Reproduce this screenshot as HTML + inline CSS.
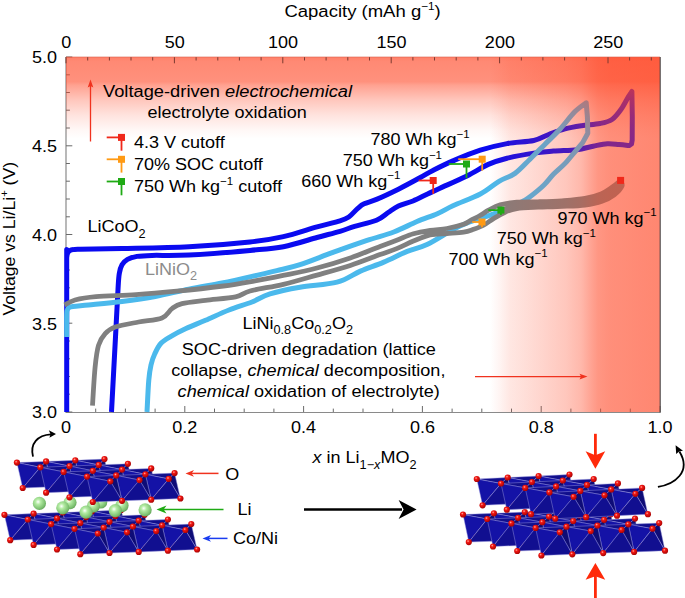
<!DOCTYPE html>
<html><head><meta charset="utf-8"><title>Figure</title>
<style>
html,body{margin:0;padding:0;background:#fff}
svg{display:block}
text{font-family:"Liberation Sans",sans-serif;font-size:17.3px;fill:#000}
.i{font-style:italic}
.s{font-size:11px}
.b{font-size:12.2px}
</style></head><body>
<svg width="685" height="598" viewBox="0 0 685 598">
<defs>
<linearGradient id="gt" x1="0" y1="0" x2="0" y2="1">
<stop offset="0" stop-color="#ff4422" stop-opacity="0.68"/>
<stop offset="0.05" stop-color="#ff4422" stop-opacity="0.63"/>
<stop offset="0.28" stop-color="#ff4422" stop-opacity="0.59"/>
<stop offset="0.32" stop-color="#ff4422" stop-opacity="0.50"/>
<stop offset="0.49" stop-color="#ff4422" stop-opacity="0.30"/>
<stop offset="0.66" stop-color="#ff4422" stop-opacity="0.15"/>
<stop offset="0.83" stop-color="#ff4422" stop-opacity="0.04"/>
<stop offset="0.93" stop-color="#ff4422" stop-opacity="0"/>
</linearGradient>
<linearGradient id="gr" x1="0" y1="0" x2="1" y2="0">
<stop offset="0.000" stop-color="#ff4422" stop-opacity="0.000"/>
<stop offset="0.029" stop-color="#ff4422" stop-opacity="0.000"/>
<stop offset="0.086" stop-color="#ff4422" stop-opacity="0.049"/>
<stop offset="0.143" stop-color="#ff4422" stop-opacity="0.107"/>
<stop offset="0.314" stop-color="#ff4422" stop-opacity="0.180"/>
<stop offset="0.463" stop-color="#ff4422" stop-opacity="0.246"/>
<stop offset="0.549" stop-color="#ff4422" stop-opacity="0.312"/>
<stop offset="0.646" stop-color="#ff4422" stop-opacity="0.459"/>
<stop offset="0.714" stop-color="#ff4422" stop-opacity="0.492"/>
<stop offset="1.000" stop-color="#ff4422" stop-opacity="0.529"/>
</linearGradient>
<linearGradient id="gru" x1="0" y1="0" x2="1" y2="0">
<stop offset="0.000" stop-color="#ff4422" stop-opacity="0.000"/>
<stop offset="0.029" stop-color="#ff4422" stop-opacity="0.000"/>
<stop offset="0.086" stop-color="#ff4422" stop-opacity="0.011"/>
<stop offset="0.143" stop-color="#ff4422" stop-opacity="0.026"/>
<stop offset="0.314" stop-color="#ff4422" stop-opacity="0.048"/>
<stop offset="0.463" stop-color="#ff4422" stop-opacity="0.072"/>
<stop offset="0.549" stop-color="#ff4422" stop-opacity="0.099"/>
<stop offset="0.646" stop-color="#ff4422" stop-opacity="0.186"/>
<stop offset="0.714" stop-color="#ff4422" stop-opacity="0.213"/>
<stop offset="1.000" stop-color="#ff4422" stop-opacity="0.246"/>
</linearGradient>
<radialGradient id="go" cx="0.38" cy="0.35" r="0.7">
<stop offset="0" stop-color="#ffb0a0"/><stop offset="0.3" stop-color="#f41814"/><stop offset="1" stop-color="#a00000"/>
</radialGradient>
<radialGradient id="gl" cx="0.4" cy="0.38" r="0.7">
<stop offset="0" stop-color="#ffffff"/><stop offset="0.28" stop-color="#b4ecA4"/><stop offset="0.75" stop-color="#7cc070"/><stop offset="1" stop-color="#5a9a50"/>
</radialGradient>
</defs>
<rect width="685" height="598" fill="#fff"/>

<rect x="485" y="57" width="175" height="355" fill="url(#gru)"/>
<path d="M66 57V412.5H660.5" stroke="#8a8a8a" stroke-width="1.2" fill="none"/>
<path d="M66 57h6.3M66 74.8h3.9M66 92.5h3.9M66 110.2h3.9M66 128h3.9M66 145.8h6.3M66 163.5h3.9M66 181.2h3.9M66 199h3.9M66 216.8h3.9M66 234.5h6.3M66 252.2h3.9M66 270h3.9M66 287.8h3.9M66 305.5h3.9M66 323.2h6.3M66 341h3.9M66 358.8h3.9M66 376.5h3.9M66 394.2h3.9M66 412h6.3M66 412v-6M95.7 412v-3.4M125.4 412v-3.4M155.1 412v-3.4M184.8 412v-6M214.5 412v-3.4M244.2 412v-3.4M273.9 412v-3.4M303.6 412v-6M333.3 412v-3.4M363 412v-3.4M392.7 412v-3.4M422.4 412v-6M452.1 412v-3.4M481.8 412v-3.4M511.5 412v-3.4M541.2 412v-6M570.9 412v-3.4M600.6 412v-3.4M630.3 412v-3.4M660 412v-6" stroke="#6a6a6a" stroke-width="1" fill="none"/>
<g fill="none" stroke-linejoin="round" stroke-linecap="butt">
<path d="M66.7 412C66.7 387 66.7 287.8 66.7 262C66.7 236.2 66.7 258.5 66.8 257C66.9 255.5 67.1 254.3 67.6 253.2C68.1 252.1 68.8 251.2 69.8 250.6C70.8 250 71.8 249.8 73.5 249.6C75.2 249.4 71.9 249.5 80 249.3C88.1 249.1 103.8 249 122 248.6C140.2 248.2 167.7 247.9 189 246.8C210.3 245.7 234.3 243.7 250 242C265.7 240.3 272.2 239.1 283.4 236.6C294.6 234.1 307.6 229.5 317 226.9C326.4 224.3 334.7 222.5 340 220.8C345.3 219.2 345.9 219 348.8 217C351.7 215 354.9 210.8 357.5 208.6C360.1 206.4 360.9 205.3 364.1 203.8C367.3 202.3 370.8 201.8 376.5 199.4C382.2 197 391.1 192.8 398.4 189.2C405.7 185.5 414.5 180.7 420.3 177.5C426.1 174.3 427.9 173 433.4 170.2C438.9 167.4 445.7 163.9 453.5 160.6C461.3 157.3 471.4 153 480.3 150.2C489.2 147.4 498.1 145.2 507 143.6C515.9 142 526.8 142 533.8 140.5C540.8 139 543.5 136.4 548.7 134.5C553.9 132.6 559.5 130.3 565 128.9C570.5 127.5 575.7 126.7 581.5 125.8C587.3 124.9 594.9 124.5 600 123.5C605.1 122.5 608.5 121.9 612 119.5C615.5 117.1 618.6 112.8 621.3 109C624 105.2 626.5 99.8 628.3 96.9C630.1 94 631.3 92.4 631.9 91.5L631.9 91.5L632.3 116.8L632.2 140L631.5 144L629 145.6L629 145.6C627.3 145.4 622.6 144.8 619 144.5C615.4 144.2 611.6 143.4 607.3 143.7C603 144 598.3 145.2 593.2 146.2C588.1 147.2 583.4 148.9 576.8 149.7C570.2 150.5 560.6 150.5 553.4 151.1C546.2 151.7 541.5 151.9 533.8 153.1C526.1 154.3 514.6 156.3 507 158.2C499.4 160.1 495 161.4 488.3 164.4C481.6 167.4 474.9 172 466.9 176C458.8 180 446.6 185.2 440 188.2C433.4 191.2 432.1 191.9 427.6 194C423.1 196.1 417.9 199 413 201C408.1 203 402.5 204.1 398.4 206C394.3 207.9 391.8 210.1 388.2 212.5C384.6 214.9 382.1 217.9 376.5 220.2C370.9 222.5 360.7 224.6 354.6 226.4C348.5 228.2 346.3 229.5 340 231.3C333.7 233.2 326.4 234.9 317 237.5C307.6 240.1 294.6 244.5 283.4 246.7C272.2 248.8 265.7 249 250 250.4C234.3 251.8 205.3 254.2 189 255C172.7 255.8 160.7 255.2 152 255.4C143.3 255.6 141.1 255.7 137 256.4C132.9 257.1 130 258 127.5 259.4C125 260.8 123.4 262.4 122 264.8C120.6 267.2 120 269.4 119.3 273.5C118.6 277.6 118.6 278.9 118 289.5C117.4 300.1 116.6 316.6 115.5 337C114.4 357.4 112.2 399.5 111.5 412" stroke="#0a0af0" stroke-width="5"/>
<path d="M66.7 337C66.7 333.3 66.6 319.5 66.7 315C66.8 310.5 66.8 311.4 67.2 310.2C67.6 308.9 68 308.1 69 307.5C70 306.9 69.8 306.8 73 306.4C76.2 306 80.2 305.7 88.4 304.9C96.6 304.1 110.8 302.9 122 301.5C133.2 300.1 144.2 298.6 155.3 296.5C166.4 294.4 177.7 291.4 188.8 289.2C199.9 286.9 211.5 285.1 222 283C232.5 280.9 242.9 278.5 252 276.4C261.1 274.3 268.8 272.6 276.8 270.6C284.8 268.7 290.5 267.8 300 264.7C309.5 261.6 322.4 256.2 333.6 252.2C344.8 248.1 357 243.8 367 240.4C377 237 385.5 235.2 393.8 232C402.1 228.8 409.8 224.6 417 221.5C424.2 218.4 431.2 216.4 437.3 213.7C443.4 211 446.3 208.8 453.5 205.5C460.7 202.2 472.7 198 480.3 194C487.9 190 493.2 184.7 499 181.3C504.8 177.9 509.8 177.1 515 173.4C520.2 169.7 525.1 163.9 530 159.2C534.9 154.4 539.3 149.9 544.3 144.9C549.3 139.9 555.2 134.5 560.2 129C565.2 123.5 570.2 116.5 574.5 112.1C578.8 107.7 584.2 104.3 586.2 102.8L586.2 102.8L587.4 116.8L587.8 133.2L582.7 142.6L582.7 142.6C581.3 144.2 577.4 148.8 574.5 152.3C571.6 155.8 568.6 159.7 565.1 163.4C561.6 167.1 556.9 170.7 553.4 174.3C549.9 177.9 547.9 181.2 544 185C540.1 188.8 533.5 194.1 530 196.8C526.5 199.5 526.8 199.1 523 201.2C519.2 203.3 512.3 207 507 209.3C501.7 211.6 497.2 212.7 491 214.8C484.8 216.9 475.9 219.6 469.6 222C463.4 224.4 460.6 225.5 453.5 229.3C446.4 233.1 434.7 240.9 427 244.6C419.3 248.3 414.4 248.5 407.2 251.4C400 254.3 391.6 258.8 383.8 262.1C376 265.4 368.2 267.8 360.4 271.1C352.6 274.5 347.1 279.5 337 282.2C326.9 284.9 311.2 285.2 300 287.2C288.8 289.1 278 291.4 270 293.9C262 296.4 258.8 299.3 252 302C245.2 304.7 236.8 306.9 229 310C221.2 313.1 212.7 317.2 205.5 320.3C198.3 323.4 191.8 325.8 186 328.5C180.2 331.2 175.2 333.8 171 336.3C166.8 338.8 163.7 340.4 161 343.3C158.3 346.2 156.5 350.2 154.8 353.8C153.1 357.4 152 360.6 151 365C150 369.4 149.5 372.2 148.8 380C148.1 387.8 147.3 406.7 147 412" stroke="#4bb9ec" stroke-width="5"/>
<path d="M503 209.5C505.3 208.8 511.2 206.2 517 205.4C522.8 204.6 530.5 204.9 538 204.6C545.5 204.3 554.2 204.2 562 203.7C569.8 203.2 578.5 202.6 585 201.6C591.5 200.6 596.3 199.2 601 197.4C605.7 195.6 609.7 193.1 613 190.8C616.3 188.5 619.7 184.7 621 183.5M64.5 305C66.2 304.2 69.8 301.4 75 300C80.2 298.6 85.8 297.5 96 296.6C106.2 295.7 122.5 295.5 136 294.6C149.4 293.7 162.1 292.6 176.7 291.2C191.3 289.8 210.3 287.7 223.4 286C236.5 284.3 243.9 282.8 255 280.8C266.1 278.8 279.7 276.3 290 274.2C300.3 272.1 306.9 270.7 317 268C327.1 265.3 339.8 261.5 350.3 257.9C360.8 254.3 372.3 249.3 380 246.4C387.7 243.5 391.1 242.3 396.7 240.2C402.3 238.1 407.8 235.4 413.4 233.8C419 232.2 424.6 231.3 430.2 230.4C435.8 229.5 441.3 229.5 446.9 228.5C452.5 227.5 459.7 225.6 463.6 224.3C467.5 223 467.6 222.1 470.3 220.6C473 219.1 477 217.2 480 215.5C483 213.8 485.1 212 488.5 210.2C491.9 208.4 495.5 206.2 500.2 204.9C504.9 203.6 510.6 202.7 516.9 202.2C523.2 201.7 530.5 202 538 201.8C545.5 201.6 554.2 201.4 562 200.8C569.8 200.2 578.5 199.6 585 198.4C591.5 197.2 596.5 195.8 601 193.9C605.5 192.1 608.8 189.5 612 187.3C615.2 185.2 618.7 182.1 620 181L620 181C620.3 181.8 623 183.7 622 186C621 188.3 617.3 192.5 614 195C610.7 197.5 606.8 199.5 602 201.2C597.2 202.9 591.7 204.1 585 205C578.3 205.9 567.8 206.1 562 206.4C556.2 206.7 554 206.7 550 206.8C546 206.9 543.5 206.9 538 207.2C532.5 207.5 522.4 207.8 516.9 208.6C511.4 209.4 509.1 210.5 505.2 212.2C501.3 213.9 497 216.5 493.5 218.6C490 220.7 487.3 223.2 484 225C480.7 226.8 477 228.1 473.6 229.3C470.2 230.5 468.1 231.5 463.6 232.2C459.2 232.9 452.5 233.1 446.9 233.5C441.3 233.9 435.8 233.6 430.2 234.8C424.6 236.1 419 238.7 413.4 241C407.8 243.3 402.3 246.3 396.7 248.6C391.1 250.9 387.7 251.8 380 254.6C372.3 257.4 360.8 262.1 350.3 265.5C339.8 268.9 328.1 272 317 275.1C305.9 278.2 294.6 281.7 283.4 284.3C272.2 286.9 258 288.9 250 291C242 293.1 243 295.3 235.6 296.9C228.2 298.4 214.4 299.2 205.5 300.3C196.6 301.4 187.6 302.2 182 303.6C176.4 305 175.3 306.2 172 308.6C168.7 311 167.6 315.8 162 318C156.4 320.2 146.4 320.5 138.6 322C130.8 323.5 120.8 325.1 115.2 327C109.6 328.9 108 330.6 105.2 333.7C102.4 336.8 100.2 339.8 98.5 345.4C96.8 351 96.1 357.2 95.1 367.2C94.1 377.2 92.9 399.2 92.5 405.6" stroke="#808080" stroke-width="4.8"/>
</g>
<rect x="66" y="57" width="594" height="88" fill="url(#gt)"/>
<rect x="485" y="57" width="175" height="355" fill="url(#gr)"/>
<path d="M66 57v6.3M87.7 57v3.5M109.4 57v3.5M131 57v3.5M152.7 57v3.5M174.4 57v6.3M196.1 57v3.5M217.8 57v3.5M239.4 57v3.5M261.1 57v3.5M282.8 57v6.3M304.5 57v3.5M326.1 57v3.5M347.8 57v3.5M369.5 57v3.5M391.2 57v6.3M412.9 57v3.5M434.5 57v3.5M456.2 57v3.5M477.9 57v3.5M499.6 57v6.3M521.3 57v3.5M542.9 57v3.5M564.6 57v3.5M586.3 57v3.5M608 57v6.3M629.6 57v3.5M651.3 57v3.5" stroke="#7a3a30" stroke-width="1" fill="none"/>
<path d="M66 57H660" stroke="#d8604c" stroke-width="0.6" fill="none"/>
<path d="M660.2 57V412.5" stroke="#4a4242" stroke-width="1.1" fill="none"/>
<g stroke="#f0281a" fill="#f0281a" stroke-width="1.8"><path d="M418.7 180.5H433.2"/><path d="M433.2 180.5V193.8"/><rect x="429.7" y="177" width="7" height="7" stroke="none"/></g>
<g stroke="#1faa14" fill="#1faa14" stroke-width="1.8"><path d="M448.8 164H466.5"/><path d="M466.5 164V178.1"/><rect x="463" y="160.5" width="7" height="7" stroke="none"/></g>
<g stroke="#ff9a14" fill="#ff9a14" stroke-width="1.8"><path d="M458.2 159.2H482.2"/><path d="M482.2 159.2V170.6"/><rect x="478.7" y="155.7" width="7" height="7" stroke="none"/></g>
<g stroke="#1faa14" fill="#1faa14" stroke-width="1.8"><path d="M488.3 210.1H500.9"/><path d="M500.9 210.1V215"/><rect x="497.4" y="206.6" width="7" height="7" stroke="none"/></g>
<g stroke="#ff9a14" fill="#ff9a14" stroke-width="1.8"><path d="M472.2 222H482"/><path d="M482 222V227.3"/><rect x="478.5" y="218.5" width="7" height="7" stroke="none"/></g>
<g stroke="#f0281a" fill="#f0281a" stroke-width="1.8"><rect x="617.1" y="176.9" width="7" height="7" stroke="none"/></g>
<g stroke="#f0281a" fill="#f0281a" stroke-width="1.8"><path d="M106.7 137.4H121.5"/><path d="M121.5 137.4V150.7"/><rect x="118" y="133.9" width="7" height="7" stroke="none"/></g>
<g stroke="#ff9a14" fill="#ff9a14" stroke-width="1.8"><path d="M106.7 159.3H121.5"/><path d="M121.5 159.3V172.6"/><rect x="118" y="155.8" width="7" height="7" stroke="none"/></g>
<g stroke="#1faa14" fill="#1faa14" stroke-width="1.8"><path d="M106.7 181.5H121.5"/><path d="M121.5 181.5V195.3"/><rect x="118" y="178" width="7" height="7" stroke="none"/></g>
<g stroke="#f0321e" stroke-width="1.3" fill="#f0321e"><path d="M90.5 141.5V86"/><path d="M90.5 79.5l-2.8 8l2.8-1.5l2.8 1.5z" stroke="none"/>
<path d="M475 376.6H582"/><path d="M587.5 376.6l-8-2.8l1.5 2.8l-1.5 2.8z" stroke="none"/></g>
<text transform="translate(362.6 17.3) scale(1.07 1)" text-anchor="middle">Capacity (mAh g<tspan class="s" dy="-7.5">−1</tspan><tspan dy="7.5">​</tspan>)</text>
<text transform="translate(66.3 48.1) scale(1.042 1)" text-anchor="middle">0</text>
<text transform="translate(174.7 48.1) scale(1.042 1)" text-anchor="middle">50</text>
<text transform="translate(283.1 48.1) scale(1.042 1)" text-anchor="middle">100</text>
<text transform="translate(391.5 48.1) scale(1.042 1)" text-anchor="middle">150</text>
<text transform="translate(499.9 48.1) scale(1.042 1)" text-anchor="middle">200</text>
<text transform="translate(608.3 48.1) scale(1.042 1)" text-anchor="middle">250</text>
<text transform="translate(57 63.3) scale(1.042 1)" text-anchor="end">5.0</text>
<text transform="translate(57 152.1) scale(1.042 1)" text-anchor="end">4.5</text>
<text transform="translate(57 240.8) scale(1.042 1)" text-anchor="end">4.0</text>
<text transform="translate(57 329.6) scale(1.042 1)" text-anchor="end">3.5</text>
<text transform="translate(57 418.3) scale(1.042 1)" text-anchor="end">3.0</text>
<text transform="translate(66 432.8) scale(1.042 1)" text-anchor="middle">0</text>
<text transform="translate(184.8 432.8) scale(1.042 1)" text-anchor="middle">0.2</text>
<text transform="translate(303.6 432.8) scale(1.042 1)" text-anchor="middle">0.4</text>
<text transform="translate(422.4 432.8) scale(1.042 1)" text-anchor="middle">0.6</text>
<text transform="translate(541.2 432.8) scale(1.042 1)" text-anchor="middle">0.8</text>
<text transform="translate(660 432.8) scale(1.042 1)" text-anchor="middle">1.0</text>
<text transform="translate(364.5 463.3) scale(1.042 1)" text-anchor="middle"><tspan class="i">x</tspan> in Li<tspan class="b" dy="5.3">1−<tspan class='i'>x</tspan></tspan><tspan dy="-5.3">​</tspan>MO<tspan class="b" dy="5.3">2</tspan><tspan dy="-5.3">​</tspan></text>
<text transform="translate(15 238.7) rotate(-90) scale(1.02 1)" text-anchor="middle">Voltage vs Li/Li<tspan class="s" dy="-7.5">+</tspan><tspan dy="7.5">​</tspan> (V)</text>
<text transform="translate(103 96.6) scale(1.058 1)">Voltage-driven <tspan class="i">electrochemical</tspan></text>
<text transform="translate(227.1 118.2) scale(1.042 1)" text-anchor="middle">electrolyte oxidation</text>
<text transform="translate(134 148.3) scale(1.042 1)">4.3 V cutoff</text>
<text transform="translate(134 170.2) scale(1.042 1)">70% SOC cutoff</text>
<text transform="translate(134 192.4) scale(1.042 1)">750 Wh kg<tspan class="s" dy="-7.5">−1</tspan><tspan dy="7.5">​</tspan> cutoff</text>
<text transform="translate(87.5 232.4) scale(1.042 1)">LiCoO<tspan class="b" dy="5.3">2</tspan><tspan dy="-5.3">​</tspan></text>
<text transform="translate(145 275) scale(1.042 1)" style="fill:#8c8c8c">LiNiO<tspan class="b" dy="5.3">2</tspan><tspan dy="-5.3">​</tspan></text>
<text transform="translate(242.5 328.6) scale(1.042 1)">LiNi<tspan class="b" dy="5.3">0.8</tspan><tspan dy="-5.3">​</tspan>Co<tspan class="b" dy="5.3">0.2</tspan><tspan dy="-5.3">​</tspan>O<tspan class="b" dy="5.3">2</tspan><tspan dy="-5.3">​</tspan></text>
<text transform="translate(308.8 354.7) scale(1.0495 1)" text-anchor="middle">SOC-driven degradation (lattice</text>
<text transform="translate(308.3 375.6) scale(1.0455 1)" text-anchor="middle">collapse, <tspan class="i">chemical</tspan> decomposition,</text>
<text transform="translate(308.7 397.2) scale(1.0454 1)" text-anchor="middle"><tspan class="i">chemical</tspan> oxidation of electrolyte)</text>
<text transform="translate(370.5 145.2) scale(1.042 1)">780 Wh kg<tspan class="s" dy="-7.5">−1</tspan><tspan dy="7.5">​</tspan></text>
<text transform="translate(342.8 166) scale(1.042 1)">750 Wh kg<tspan class="s" dy="-7.5">−1</tspan><tspan dy="7.5">​</tspan></text>
<text transform="translate(301.2 186.5) scale(1.042 1)">660 Wh kg<tspan class="s" dy="-7.5">−1</tspan><tspan dy="7.5">​</tspan></text>
<text transform="translate(557.5 223.6) scale(1.042 1)">970 Wh kg<tspan class="s" dy="-7.5">−1</tspan><tspan dy="7.5">​</tspan></text>
<text transform="translate(496.7 244) scale(1.042 1)">750 Wh kg<tspan class="s" dy="-7.5">−1</tspan><tspan dy="7.5">​</tspan></text>
<text transform="translate(448.4 264.7) scale(1.042 1)">700 Wh kg<tspan class="s" dy="-7.5">−1</tspan><tspan dy="7.5">​</tspan></text>
<g stroke="#9d9ae0" stroke-width="0.45" stroke-linejoin="round">
<circle cx="103.7" cy="530.9" r="3.1" fill="url(#go)" stroke="none"/><polygon points="92,511.3 121.2,510.1 115.4,516" fill="rgb(17,15,141)"/><polygon points="121.2,510.1 115.4,516 127,535.5" fill="rgb(14,12,119)"/><circle cx="121.2" cy="510.1" r="3.1" fill="url(#go)" stroke="none"/><circle cx="74.5" cy="532" r="3.1" fill="url(#go)" stroke="none"/><polygon points="92,511.3 115.4,516 97.8,536.7" fill="rgb(20,18,166)"/><polygon points="115.4,516 127,535.5 97.8,536.7" fill="rgb(17,15,144)"/><polygon points="62.8,512.5 92,511.3 86.2,517.1" fill="rgb(17,15,141)"/><polygon points="92,511.3 86.2,517.1 97.8,536.7" fill="rgb(14,12,119)"/><circle cx="92" cy="511.3" r="3.1" fill="url(#go)" stroke="none"/><circle cx="45.3" cy="533.2" r="3.1" fill="url(#go)" stroke="none"/><circle cx="127" cy="535.5" r="3.1" fill="url(#go)" stroke="none"/><polygon points="62.8,512.5 86.2,517.1 68.6,537.9" fill="rgb(20,18,166)"/><polygon points="86.2,517.1 97.8,536.7 68.6,537.9" fill="rgb(17,15,144)"/><polygon points="115.4,516 144.6,514.8 138.7,520.6" fill="rgb(17,15,141)"/><polygon points="33.6,513.6 62.8,512.5 57,518.3" fill="rgb(17,15,141)"/><polygon points="62.8,512.5 57,518.3 68.6,537.9" fill="rgb(14,12,119)"/><polygon points="144.6,514.8 138.7,520.6 150.4,540.2" fill="rgb(14,12,119)"/><circle cx="62.8" cy="512.5" r="3.1" fill="url(#go)" stroke="none"/><circle cx="144.6" cy="514.8" r="3.1" fill="url(#go)" stroke="none"/><circle cx="97.8" cy="536.7" r="3.1" fill="url(#go)" stroke="none"/><circle cx="16.1" cy="534.4" r="3.1" fill="url(#go)" stroke="none"/><polygon points="33.6,513.6 57,518.3 39.4,539" fill="rgb(20,18,166)"/><polygon points="115.4,516 138.7,520.6 121.2,541.4" fill="rgb(20,18,166)"/><polygon points="138.7,520.6 150.4,540.2 121.2,541.4" fill="rgb(17,15,144)"/><polygon points="57,518.3 68.6,537.9 39.4,539" fill="rgb(17,15,144)"/><polygon points="86.2,517.1 115.4,516 109.5,521.8" fill="rgb(17,15,141)"/><polygon points="4.4,514.8 33.6,513.6 27.8,519.5" fill="rgb(17,15,141)"/><polygon points="115.4,516 109.5,521.8 121.2,541.4" fill="rgb(14,12,119)"/><polygon points="33.6,513.6 27.8,519.5 39.4,539" fill="rgb(14,12,119)"/><circle cx="115.4" cy="516" r="3.1" fill="url(#go)" stroke="none"/><circle cx="33.6" cy="513.6" r="3.1" fill="url(#go)" stroke="none"/><circle cx="68.6" cy="537.9" r="3.1" fill="url(#go)" stroke="none"/><circle cx="150.4" cy="540.2" r="3.1" fill="url(#go)" stroke="none"/><polygon points="4.4,514.8 27.8,519.5 10.2,540.2" fill="rgb(20,18,166)"/><polygon points="86.2,517.1 109.5,521.8 92,542.5" fill="rgb(20,18,166)"/><polygon points="109.5,521.8 121.2,541.4 92,542.5" fill="rgb(17,15,144)"/><polygon points="27.8,519.5 39.4,539 10.2,540.2" fill="rgb(17,15,144)"/><polygon points="57,518.3 86.2,517.1 80.3,523" fill="rgb(17,15,141)"/><polygon points="138.7,520.6 167.9,519.5 162.1,525.3" fill="rgb(17,15,141)"/><polygon points="86.2,517.1 80.3,523 92,542.5" fill="rgb(14,12,119)"/><polygon points="167.9,519.5 162.1,525.3 173.8,544.9" fill="rgb(14,12,119)"/><circle cx="167.9" cy="519.5" r="3.1" fill="url(#go)" stroke="none"/><circle cx="4.4" cy="514.8" r="3.1" fill="url(#go)" stroke="none"/><circle cx="86.2" cy="517.1" r="3.1" fill="url(#go)" stroke="none"/><circle cx="121.2" cy="541.4" r="3.1" fill="url(#go)" stroke="none"/><circle cx="39.4" cy="539" r="3.1" fill="url(#go)" stroke="none"/><polygon points="138.7,520.6 162.1,525.3 144.6,546" fill="rgb(20,18,166)"/><polygon points="57,518.3 80.3,523 62.8,543.7" fill="rgb(20,18,166)"/><polygon points="162.1,525.3 173.8,544.9 144.6,546" fill="rgb(17,15,144)"/><polygon points="80.3,523 92,542.5 62.8,543.7" fill="rgb(17,15,144)"/><polygon points="27.8,519.5 57,518.3 51.1,524.1" fill="rgb(17,15,141)"/><polygon points="109.5,521.8 138.7,520.6 132.9,526.5" fill="rgb(17,15,141)"/><polygon points="57,518.3 51.1,524.1 62.8,543.7" fill="rgb(14,12,119)"/><polygon points="138.7,520.6 132.9,526.5 144.6,546" fill="rgb(14,12,119)"/><circle cx="138.7" cy="520.6" r="3.1" fill="url(#go)" stroke="none"/><circle cx="57" cy="518.3" r="3.1" fill="url(#go)" stroke="none"/><circle cx="92" cy="542.5" r="3.1" fill="url(#go)" stroke="none"/><circle cx="173.8" cy="544.9" r="3.1" fill="url(#go)" stroke="none"/><circle cx="10.2" cy="540.2" r="3.1" fill="url(#go)" stroke="none"/><polygon points="27.8,519.5 51.1,524.1 33.6,544.9" fill="rgb(20,18,166)"/><polygon points="109.5,521.8 132.9,526.5 115.4,547.2" fill="rgb(20,18,166)"/><polygon points="51.1,524.1 62.8,543.7 33.6,544.9" fill="rgb(17,15,144)"/><polygon points="132.9,526.5 144.6,546 115.4,547.2" fill="rgb(17,15,144)"/><polygon points="162.1,525.3 191.3,524.1 185.4,530" fill="rgb(17,15,141)"/><polygon points="80.3,523 109.5,521.8 103.7,527.6" fill="rgb(17,15,141)"/><polygon points="191.3,524.1 185.4,530 197.1,549.5" fill="rgb(14,12,119)"/><polygon points="109.5,521.8 103.7,527.6 115.4,547.2" fill="rgb(14,12,119)"/><circle cx="27.8" cy="519.5" r="3.1" fill="url(#go)" stroke="none"/><circle cx="109.5" cy="521.8" r="3.1" fill="url(#go)" stroke="none"/><circle cx="191.3" cy="524.1" r="3.1" fill="url(#go)" stroke="none"/><circle cx="144.6" cy="546" r="3.1" fill="url(#go)" stroke="none"/><circle cx="62.8" cy="543.7" r="3.1" fill="url(#go)" stroke="none"/><polygon points="162.1,525.3 185.4,530 167.9,550.7" fill="rgb(20,18,166)"/><polygon points="80.3,523 103.7,527.6 86.2,548.4" fill="rgb(20,18,166)"/><polygon points="103.7,527.6 115.4,547.2 86.2,548.4" fill="rgb(17,15,144)"/><polygon points="185.4,530 197.1,549.5 167.9,550.7" fill="rgb(17,15,144)"/><polygon points="132.9,526.5 162.1,525.3 156.2,531.1" fill="rgb(17,15,141)"/><polygon points="51.1,524.1 80.3,523 74.5,528.8" fill="rgb(17,15,141)"/><polygon points="162.1,525.3 156.2,531.1 167.9,550.7" fill="rgb(14,12,119)"/><polygon points="80.3,523 74.5,528.8 86.2,548.4" fill="rgb(14,12,119)"/><circle cx="80.3" cy="523" r="3.1" fill="url(#go)" stroke="none"/><circle cx="162.1" cy="525.3" r="3.1" fill="url(#go)" stroke="none"/><circle cx="197.1" cy="549.5" r="3.1" fill="url(#go)" stroke="none"/><circle cx="33.6" cy="544.9" r="3.1" fill="url(#go)" stroke="none"/><circle cx="115.4" cy="547.2" r="3.1" fill="url(#go)" stroke="none"/><polygon points="51.1,524.1 74.5,528.8 57,549.5" fill="rgb(20,18,166)"/><polygon points="132.9,526.5 156.2,531.1 138.7,551.9" fill="rgb(20,18,166)"/><polygon points="74.5,528.8 86.2,548.4 57,549.5" fill="rgb(17,15,144)"/><polygon points="156.2,531.1 167.9,550.7 138.7,551.9" fill="rgb(17,15,144)"/><polygon points="103.7,527.6 132.9,526.5 127,532.3" fill="rgb(17,15,141)"/><polygon points="132.9,526.5 127,532.3 138.7,551.9" fill="rgb(14,12,119)"/><circle cx="51.1" cy="524.1" r="3.1" fill="url(#go)" stroke="none"/><circle cx="132.9" cy="526.5" r="3.1" fill="url(#go)" stroke="none"/><circle cx="167.9" cy="550.7" r="3.1" fill="url(#go)" stroke="none"/><circle cx="86.2" cy="548.4" r="3.1" fill="url(#go)" stroke="none"/><polygon points="103.7,527.6 127,532.3 109.5,553" fill="rgb(20,18,166)"/><polygon points="127,532.3 138.7,551.9 109.5,553" fill="rgb(17,15,144)"/><polygon points="74.5,528.8 103.7,527.6 97.8,533.5" fill="rgb(17,15,141)"/><polygon points="103.7,527.6 97.8,533.5 109.5,553" fill="rgb(14,12,119)"/><circle cx="103.7" cy="527.6" r="3.1" fill="url(#go)" stroke="none"/><circle cx="185.4" cy="530" r="3.1" fill="url(#go)" stroke="none"/><circle cx="138.7" cy="551.9" r="3.1" fill="url(#go)" stroke="none"/><circle cx="57" cy="549.5" r="3.1" fill="url(#go)" stroke="none"/><polygon points="74.5,528.8 97.8,533.5 80.3,554.2" fill="rgb(20,18,166)"/><polygon points="97.8,533.5 109.5,553 80.3,554.2" fill="rgb(17,15,144)"/><circle cx="156.2" cy="531.1" r="3.1" fill="url(#go)" stroke="none"/><circle cx="74.5" cy="528.8" r="3.1" fill="url(#go)" stroke="none"/><circle cx="109.5" cy="553" r="3.1" fill="url(#go)" stroke="none"/><circle cx="127" cy="532.3" r="3.1" fill="url(#go)" stroke="none"/><circle cx="80.3" cy="554.2" r="3.1" fill="url(#go)" stroke="none"/><circle cx="97.8" cy="533.5" r="3.1" fill="url(#go)" stroke="none"/>
<circle cx="100.7" cy="502" r="6.6" fill="url(#gl)" stroke="none"/>
<circle cx="70" cy="502.6" r="6.6" fill="url(#gl)" stroke="none"/>
<circle cx="39.4" cy="503.4" r="6.6" fill="url(#gl)" stroke="none"/>
<circle cx="122" cy="505.5" r="6.6" fill="url(#gl)" stroke="none"/>
<circle cx="93.4" cy="506" r="6.6" fill="url(#gl)" stroke="none"/>
<circle cx="62.8" cy="507.8" r="6.6" fill="url(#gl)" stroke="none"/>
<circle cx="145.1" cy="509.9" r="6.6" fill="url(#gl)" stroke="none"/>
<circle cx="115.3" cy="510.7" r="6.6" fill="url(#gl)" stroke="none"/>
<circle cx="86.1" cy="512.2" r="6.6" fill="url(#gl)" stroke="none"/>
<circle cx="87" cy="479.8" r="3.1" fill="url(#go)" stroke="none"/><polygon points="75.3,460.3 104.5,459.1 98.7,464.9" fill="rgb(17,15,141)"/><polygon points="104.5,459.1 98.7,464.9 110.3,484.5" fill="rgb(14,12,119)"/><circle cx="104.5" cy="459.1" r="3.1" fill="url(#go)" stroke="none"/><circle cx="57.8" cy="481" r="3.1" fill="url(#go)" stroke="none"/><polygon points="75.3,460.3 98.7,464.9 81.1,485.7" fill="rgb(20,18,166)"/><polygon points="98.7,464.9 110.3,484.5 81.1,485.7" fill="rgb(17,15,144)"/><polygon points="46.1,461.4 75.3,460.3 69.5,466.1" fill="rgb(17,15,141)"/><polygon points="75.3,460.3 69.5,466.1 81.1,485.7" fill="rgb(14,12,119)"/><circle cx="75.3" cy="460.3" r="3.1" fill="url(#go)" stroke="none"/><circle cx="110.3" cy="484.5" r="3.1" fill="url(#go)" stroke="none"/><circle cx="28.6" cy="482.2" r="3.1" fill="url(#go)" stroke="none"/><polygon points="46.1,461.4 69.5,466.1 51.9,486.8" fill="rgb(20,18,166)"/><polygon points="69.5,466.1 81.1,485.7 51.9,486.8" fill="rgb(17,15,144)"/><polygon points="98.7,464.9 127.9,463.8 122,469.6" fill="rgb(17,15,141)"/><polygon points="16.9,462.6 46.1,461.4 40.3,467.3" fill="rgb(17,15,141)"/><polygon points="127.9,463.8 122,469.6 133.7,489.2" fill="rgb(14,12,119)"/><polygon points="46.1,461.4 40.3,467.3 51.9,486.8" fill="rgb(14,12,119)"/><circle cx="127.9" cy="463.8" r="3.1" fill="url(#go)" stroke="none"/><circle cx="46.1" cy="461.4" r="3.1" fill="url(#go)" stroke="none"/><circle cx="81.1" cy="485.7" r="3.1" fill="url(#go)" stroke="none"/><polygon points="16.9,462.6 40.3,467.3 22.7,488" fill="rgb(20,18,166)"/><polygon points="98.7,464.9 122,469.6 104.5,490.3" fill="rgb(20,18,166)"/><polygon points="122,469.6 133.7,489.2 104.5,490.3" fill="rgb(17,15,144)"/><polygon points="40.3,467.3 51.9,486.8 22.7,488" fill="rgb(17,15,144)"/><polygon points="69.5,466.1 98.7,464.9 92.8,470.8" fill="rgb(17,15,141)"/><polygon points="98.7,464.9 92.8,470.8 104.5,490.3" fill="rgb(14,12,119)"/><circle cx="16.9" cy="462.6" r="3.1" fill="url(#go)" stroke="none"/><circle cx="98.7" cy="464.9" r="3.1" fill="url(#go)" stroke="none"/><circle cx="133.7" cy="489.2" r="3.1" fill="url(#go)" stroke="none"/><circle cx="51.9" cy="486.8" r="3.1" fill="url(#go)" stroke="none"/><polygon points="69.5,466.1 92.8,470.8 75.3,491.5" fill="rgb(20,18,166)"/><polygon points="92.8,470.8 104.5,490.3 75.3,491.5" fill="rgb(17,15,144)"/><polygon points="40.3,467.3 69.5,466.1 63.6,471.9" fill="rgb(17,15,141)"/><polygon points="122,469.6 151.2,468.4 145.4,474.3" fill="rgb(17,15,141)"/><polygon points="69.5,466.1 63.6,471.9 75.3,491.5" fill="rgb(14,12,119)"/><polygon points="151.2,468.4 145.4,474.3 157.1,493.8" fill="rgb(14,12,119)"/><circle cx="151.2" cy="468.4" r="3.1" fill="url(#go)" stroke="none"/><circle cx="69.5" cy="466.1" r="3.1" fill="url(#go)" stroke="none"/><circle cx="104.5" cy="490.3" r="3.1" fill="url(#go)" stroke="none"/><circle cx="22.7" cy="488" r="3.1" fill="url(#go)" stroke="none"/><polygon points="40.3,467.3 63.6,471.9 46.1,492.7" fill="rgb(20,18,166)"/><polygon points="122,469.6 145.4,474.3 127.9,495" fill="rgb(20,18,166)"/><polygon points="63.6,471.9 75.3,491.5 46.1,492.7" fill="rgb(17,15,144)"/><polygon points="145.4,474.3 157.1,493.8 127.9,495" fill="rgb(17,15,144)"/><polygon points="92.8,470.8 122,469.6 116.2,475.4" fill="rgb(17,15,141)"/><polygon points="122,469.6 116.2,475.4 127.9,495" fill="rgb(14,12,119)"/><circle cx="40.3" cy="467.3" r="3.1" fill="url(#go)" stroke="none"/><circle cx="122" cy="469.6" r="3.1" fill="url(#go)" stroke="none"/><circle cx="157.1" cy="493.8" r="3.1" fill="url(#go)" stroke="none"/><circle cx="75.3" cy="491.5" r="3.1" fill="url(#go)" stroke="none"/><polygon points="92.8,470.8 116.2,475.4 98.7,496.2" fill="rgb(20,18,166)"/><polygon points="116.2,475.4 127.9,495 98.7,496.2" fill="rgb(17,15,144)"/><polygon points="145.4,474.3 174.6,473.1 168.7,478.9" fill="rgb(17,15,141)"/><polygon points="63.6,471.9 92.8,470.8 87,476.6" fill="rgb(17,15,141)"/><polygon points="174.6,473.1 168.7,478.9 180.4,498.5" fill="rgb(14,12,119)"/><polygon points="92.8,470.8 87,476.6 98.7,496.2" fill="rgb(14,12,119)"/><circle cx="92.8" cy="470.8" r="3.1" fill="url(#go)" stroke="none"/><circle cx="174.6" cy="473.1" r="3.1" fill="url(#go)" stroke="none"/><circle cx="46.1" cy="492.7" r="3.1" fill="url(#go)" stroke="none"/><circle cx="127.9" cy="495" r="3.1" fill="url(#go)" stroke="none"/><polygon points="63.6,471.9 87,476.6 69.5,497.3" fill="rgb(20,18,166)"/><polygon points="145.4,474.3 168.7,478.9 151.2,499.7" fill="rgb(20,18,166)"/><polygon points="87,476.6 98.7,496.2 69.5,497.3" fill="rgb(17,15,144)"/><polygon points="168.7,478.9 180.4,498.5 151.2,499.7" fill="rgb(17,15,144)"/><polygon points="116.2,475.4 145.4,474.3 139.5,480.1" fill="rgb(17,15,141)"/><polygon points="145.4,474.3 139.5,480.1 151.2,499.7" fill="rgb(14,12,119)"/><circle cx="63.6" cy="471.9" r="3.1" fill="url(#go)" stroke="none"/><circle cx="145.4" cy="474.3" r="3.1" fill="url(#go)" stroke="none"/><circle cx="180.4" cy="498.5" r="3.1" fill="url(#go)" stroke="none"/><circle cx="98.7" cy="496.2" r="3.1" fill="url(#go)" stroke="none"/><polygon points="116.2,475.4 139.5,480.1 122,500.8" fill="rgb(20,18,166)"/><polygon points="139.5,480.1 151.2,499.7 122,500.8" fill="rgb(17,15,144)"/><polygon points="87,476.6 116.2,475.4 110.3,481.3" fill="rgb(17,15,141)"/><polygon points="116.2,475.4 110.3,481.3 122,500.8" fill="rgb(14,12,119)"/><circle cx="116.2" cy="475.4" r="3.1" fill="url(#go)" stroke="none"/><circle cx="151.2" cy="499.7" r="3.1" fill="url(#go)" stroke="none"/><circle cx="69.5" cy="497.3" r="3.1" fill="url(#go)" stroke="none"/><polygon points="87,476.6 110.3,481.3 92.8,502" fill="rgb(20,18,166)"/><polygon points="110.3,481.3 122,500.8 92.8,502" fill="rgb(17,15,144)"/><circle cx="168.7" cy="478.9" r="3.1" fill="url(#go)" stroke="none"/><circle cx="87" cy="476.6" r="3.1" fill="url(#go)" stroke="none"/><circle cx="122" cy="500.8" r="3.1" fill="url(#go)" stroke="none"/><circle cx="139.5" cy="480.1" r="3.1" fill="url(#go)" stroke="none"/><circle cx="92.8" cy="502" r="3.1" fill="url(#go)" stroke="none"/><circle cx="110.3" cy="481.3" r="3.1" fill="url(#go)" stroke="none"/>
<circle cx="568.2" cy="532.8" r="3.1" fill="url(#go)" stroke="none"/><polygon points="555.7,510.9 586.6,509.7 579.9,515.4" fill="rgb(17,15,141)"/><polygon points="586.6,509.7 579.9,515.4 592.4,537.3" fill="rgb(14,12,119)"/><circle cx="586.6" cy="509.7" r="3.1" fill="url(#go)" stroke="none"/><circle cx="537.3" cy="534" r="3.1" fill="url(#go)" stroke="none"/><polygon points="555.7,510.9 579.9,515.4 561.5,538.5" fill="rgb(20,18,166)"/><polygon points="579.9,515.4 592.4,537.3 561.5,538.5" fill="rgb(17,15,144)"/><polygon points="524.8,512.1 555.7,510.9 549,516.6" fill="rgb(17,15,141)"/><polygon points="555.7,510.9 549,516.6 561.5,538.5" fill="rgb(14,12,119)"/><circle cx="555.7" cy="510.9" r="3.1" fill="url(#go)" stroke="none"/><circle cx="506.4" cy="535.2" r="3.1" fill="url(#go)" stroke="none"/><circle cx="592.4" cy="537.3" r="3.1" fill="url(#go)" stroke="none"/><polygon points="524.8,512.1 549,516.6 530.6,539.7" fill="rgb(20,18,166)"/><polygon points="549,516.6 561.5,538.5 530.6,539.7" fill="rgb(17,15,144)"/><polygon points="493.9,513.3 524.8,512.1 518.1,517.8" fill="rgb(17,15,141)"/><polygon points="524.8,512.1 518.1,517.8 530.6,539.7" fill="rgb(14,12,119)"/><circle cx="524.8" cy="512.1" r="3.1" fill="url(#go)" stroke="none"/><polygon points="579.9,515.4 610.8,514.2 604.1,519.8" fill="rgb(17,15,141)"/><circle cx="475.5" cy="536.4" r="3.1" fill="url(#go)" stroke="none"/><polygon points="610.8,514.2 604.1,519.8 616.6,541.7" fill="rgb(14,12,119)"/><circle cx="610.8" cy="514.2" r="3.1" fill="url(#go)" stroke="none"/><circle cx="561.5" cy="538.5" r="3.1" fill="url(#go)" stroke="none"/><polygon points="493.9,513.3 518.1,517.8 499.7,540.9" fill="rgb(20,18,166)"/><polygon points="518.1,517.8 530.6,539.7 499.7,540.9" fill="rgb(17,15,144)"/><polygon points="579.9,515.4 604.1,519.8 585.7,542.9" fill="rgb(20,18,166)"/><polygon points="604.1,519.8 616.6,541.7 585.7,542.9" fill="rgb(17,15,144)"/><polygon points="463,514.5 493.9,513.3 487.2,519" fill="rgb(17,15,141)"/><polygon points="493.9,513.3 487.2,519 499.7,540.9" fill="rgb(14,12,119)"/><circle cx="493.9" cy="513.3" r="3.1" fill="url(#go)" stroke="none"/><polygon points="549,516.6 579.9,515.4 573.2,521" fill="rgb(17,15,141)"/><polygon points="579.9,515.4 573.2,521 585.7,542.9" fill="rgb(14,12,119)"/><circle cx="579.9" cy="515.4" r="3.1" fill="url(#go)" stroke="none"/><circle cx="530.6" cy="539.7" r="3.1" fill="url(#go)" stroke="none"/><circle cx="616.6" cy="541.7" r="3.1" fill="url(#go)" stroke="none"/><polygon points="463,514.5 487.2,519 468.8,542.1" fill="rgb(20,18,166)"/><polygon points="487.2,519 499.7,540.9 468.8,542.1" fill="rgb(17,15,144)"/><polygon points="549,516.6 573.2,521 554.8,544.1" fill="rgb(20,18,166)"/><polygon points="573.2,521 585.7,542.9 554.8,544.1" fill="rgb(17,15,144)"/><circle cx="463" cy="514.5" r="3.1" fill="url(#go)" stroke="none"/><polygon points="518.1,517.8 549,516.6 542.3,522.2" fill="rgb(17,15,141)"/><polygon points="549,516.6 542.3,522.2 554.8,544.1" fill="rgb(14,12,119)"/><circle cx="549" cy="516.6" r="3.1" fill="url(#go)" stroke="none"/><polygon points="604.1,519.8 635,518.6 628.3,524.3" fill="rgb(17,15,141)"/><circle cx="499.7" cy="540.9" r="3.1" fill="url(#go)" stroke="none"/><polygon points="635,518.6 628.3,524.3 640.8,546.2" fill="rgb(14,12,119)"/><circle cx="635" cy="518.6" r="3.1" fill="url(#go)" stroke="none"/><circle cx="585.7" cy="542.9" r="3.1" fill="url(#go)" stroke="none"/><polygon points="518.1,517.8 542.3,522.2 523.9,545.3" fill="rgb(20,18,166)"/><polygon points="542.3,522.2 554.8,544.1 523.9,545.3" fill="rgb(17,15,144)"/><polygon points="604.1,519.8 628.3,524.3 609.9,547.4" fill="rgb(20,18,166)"/><polygon points="628.3,524.3 640.8,546.2 609.9,547.4" fill="rgb(17,15,144)"/><polygon points="487.2,519 518.1,517.8 511.4,523.4" fill="rgb(17,15,141)"/><polygon points="518.1,517.8 511.4,523.4 523.9,545.3" fill="rgb(14,12,119)"/><circle cx="518.1" cy="517.8" r="3.1" fill="url(#go)" stroke="none"/><polygon points="573.2,521 604.1,519.8 597.4,525.5" fill="rgb(17,15,141)"/><circle cx="468.8" cy="542.1" r="3.1" fill="url(#go)" stroke="none"/><polygon points="604.1,519.8 597.4,525.5 609.9,547.4" fill="rgb(14,12,119)"/><circle cx="604.1" cy="519.8" r="3.1" fill="url(#go)" stroke="none"/><circle cx="554.8" cy="544.1" r="3.1" fill="url(#go)" stroke="none"/><circle cx="640.8" cy="546.2" r="3.1" fill="url(#go)" stroke="none"/><polygon points="487.2,519 511.4,523.4 493,546.5" fill="rgb(20,18,166)"/><polygon points="511.4,523.4 523.9,545.3 493,546.5" fill="rgb(17,15,144)"/><polygon points="573.2,521 597.4,525.5 579,548.6" fill="rgb(20,18,166)"/><polygon points="597.4,525.5 609.9,547.4 579,548.6" fill="rgb(17,15,144)"/><circle cx="487.2" cy="519" r="3.1" fill="url(#go)" stroke="none"/><polygon points="542.3,522.2 573.2,521 566.5,526.7" fill="rgb(17,15,141)"/><polygon points="573.2,521 566.5,526.7 579,548.6" fill="rgb(14,12,119)"/><circle cx="573.2" cy="521" r="3.1" fill="url(#go)" stroke="none"/><polygon points="628.3,524.3 659.2,523.1 652.5,528.7" fill="rgb(17,15,141)"/><circle cx="523.9" cy="545.3" r="3.1" fill="url(#go)" stroke="none"/><polygon points="659.2,523.1 652.5,528.7 665,550.7" fill="rgb(14,12,119)"/><circle cx="659.2" cy="523.1" r="3.1" fill="url(#go)" stroke="none"/><circle cx="609.9" cy="547.4" r="3.1" fill="url(#go)" stroke="none"/><polygon points="542.3,522.2 566.5,526.7 548.1,549.8" fill="rgb(20,18,166)"/><polygon points="566.5,526.7 579,548.6 548.1,549.8" fill="rgb(17,15,144)"/><polygon points="628.3,524.3 652.5,528.7 634.1,551.9" fill="rgb(20,18,166)"/><polygon points="652.5,528.7 665,550.7 634.1,551.9" fill="rgb(17,15,144)"/><polygon points="511.4,523.4 542.3,522.2 535.6,527.9" fill="rgb(17,15,141)"/><polygon points="542.3,522.2 535.6,527.9 548.1,549.8" fill="rgb(14,12,119)"/><circle cx="542.3" cy="522.2" r="3.1" fill="url(#go)" stroke="none"/><polygon points="597.4,525.5 628.3,524.3 621.6,529.9" fill="rgb(17,15,141)"/><circle cx="493" cy="546.5" r="3.1" fill="url(#go)" stroke="none"/><polygon points="628.3,524.3 621.6,529.9 634.1,551.9" fill="rgb(14,12,119)"/><circle cx="628.3" cy="524.3" r="3.1" fill="url(#go)" stroke="none"/><circle cx="579" cy="548.6" r="3.1" fill="url(#go)" stroke="none"/><circle cx="665" cy="550.7" r="3.1" fill="url(#go)" stroke="none"/><polygon points="511.4,523.4 535.6,527.9 517.2,551" fill="rgb(20,18,166)"/><polygon points="535.6,527.9 548.1,549.8 517.2,551" fill="rgb(17,15,144)"/><polygon points="597.4,525.5 621.6,529.9 603.2,553.1" fill="rgb(20,18,166)"/><polygon points="621.6,529.9 634.1,551.9 603.2,553.1" fill="rgb(17,15,144)"/><circle cx="511.4" cy="523.4" r="3.1" fill="url(#go)" stroke="none"/><polygon points="566.5,526.7 597.4,525.5 590.7,531.1" fill="rgb(17,15,141)"/><polygon points="597.4,525.5 590.7,531.1 603.2,553.1" fill="rgb(14,12,119)"/><circle cx="597.4" cy="525.5" r="3.1" fill="url(#go)" stroke="none"/><circle cx="548.1" cy="549.8" r="3.1" fill="url(#go)" stroke="none"/><circle cx="634.1" cy="551.9" r="3.1" fill="url(#go)" stroke="none"/><polygon points="566.5,526.7 590.7,531.1 572.3,554.3" fill="rgb(20,18,166)"/><polygon points="590.7,531.1 603.2,553.1 572.3,554.3" fill="rgb(17,15,144)"/><polygon points="535.6,527.9 566.5,526.7 559.8,532.3" fill="rgb(17,15,141)"/><polygon points="566.5,526.7 559.8,532.3 572.3,554.3" fill="rgb(14,12,119)"/><circle cx="566.5" cy="526.7" r="3.1" fill="url(#go)" stroke="none"/><circle cx="517.2" cy="551" r="3.1" fill="url(#go)" stroke="none"/><circle cx="652.5" cy="528.7" r="3.1" fill="url(#go)" stroke="none"/><circle cx="603.2" cy="553.1" r="3.1" fill="url(#go)" stroke="none"/><polygon points="535.6,527.9 559.8,532.3 541.4,555.5" fill="rgb(20,18,166)"/><polygon points="559.8,532.3 572.3,554.3 541.4,555.5" fill="rgb(17,15,144)"/><circle cx="535.6" cy="527.9" r="3.1" fill="url(#go)" stroke="none"/><circle cx="621.6" cy="529.9" r="3.1" fill="url(#go)" stroke="none"/><circle cx="572.3" cy="554.3" r="3.1" fill="url(#go)" stroke="none"/><circle cx="590.7" cy="531.1" r="3.1" fill="url(#go)" stroke="none"/><circle cx="541.4" cy="555.5" r="3.1" fill="url(#go)" stroke="none"/><circle cx="559.8" cy="532.3" r="3.1" fill="url(#go)" stroke="none"/>
<circle cx="551.1" cy="496.3" r="3.1" fill="url(#go)" stroke="none"/><polygon points="538.6,476 569.5,474.5 562.8,480.5" fill="rgb(17,15,141)"/><polygon points="569.5,474.5 562.8,480.5 575.3,500.8" fill="rgb(14,12,119)"/><circle cx="569.5" cy="474.5" r="3.1" fill="url(#go)" stroke="none"/><circle cx="520.2" cy="497.8" r="3.1" fill="url(#go)" stroke="none"/><polygon points="538.6,476 562.8,480.5 544.4,502.3" fill="rgb(20,18,166)"/><polygon points="562.8,480.5 575.3,500.8 544.4,502.3" fill="rgb(17,15,144)"/><polygon points="507.7,477.5 538.6,476 531.9,482" fill="rgb(17,15,141)"/><polygon points="538.6,476 531.9,482 544.4,502.3" fill="rgb(14,12,119)"/><circle cx="538.6" cy="476" r="3.1" fill="url(#go)" stroke="none"/><circle cx="489.3" cy="499.3" r="3.1" fill="url(#go)" stroke="none"/><circle cx="575.3" cy="500.8" r="3.1" fill="url(#go)" stroke="none"/><polygon points="507.7,477.5 531.9,482 513.5,503.8" fill="rgb(20,18,166)"/><polygon points="531.9,482 544.4,502.3 513.5,503.8" fill="rgb(17,15,144)"/><polygon points="476.8,479 507.7,477.5 501,483.5" fill="rgb(17,15,141)"/><polygon points="507.7,477.5 501,483.5 513.5,503.8" fill="rgb(14,12,119)"/><circle cx="507.7" cy="477.5" r="3.1" fill="url(#go)" stroke="none"/><polygon points="562.8,480.5 593.7,479 587,484.9" fill="rgb(17,15,141)"/><polygon points="593.7,479 587,484.9 599.5,505.2" fill="rgb(14,12,119)"/><circle cx="593.7" cy="479" r="3.1" fill="url(#go)" stroke="none"/><circle cx="544.4" cy="502.3" r="3.1" fill="url(#go)" stroke="none"/><polygon points="476.8,479 501,483.5 482.6,505.3" fill="rgb(20,18,166)"/><polygon points="501,483.5 513.5,503.8 482.6,505.3" fill="rgb(17,15,144)"/><polygon points="562.8,480.5 587,484.9 568.6,506.7" fill="rgb(20,18,166)"/><polygon points="587,484.9 599.5,505.2 568.6,506.7" fill="rgb(17,15,144)"/><circle cx="476.8" cy="479" r="3.1" fill="url(#go)" stroke="none"/><polygon points="531.9,482 562.8,480.5 556.1,486.4" fill="rgb(17,15,141)"/><polygon points="562.8,480.5 556.1,486.4 568.6,506.7" fill="rgb(14,12,119)"/><circle cx="562.8" cy="480.5" r="3.1" fill="url(#go)" stroke="none"/><circle cx="513.5" cy="503.8" r="3.1" fill="url(#go)" stroke="none"/><circle cx="599.5" cy="505.2" r="3.1" fill="url(#go)" stroke="none"/><polygon points="531.9,482 556.1,486.4 537.7,508.2" fill="rgb(20,18,166)"/><polygon points="556.1,486.4 568.6,506.7 537.7,508.2" fill="rgb(17,15,144)"/><polygon points="501,483.5 531.9,482 525.2,487.9" fill="rgb(17,15,141)"/><polygon points="531.9,482 525.2,487.9 537.7,508.2" fill="rgb(14,12,119)"/><circle cx="531.9" cy="482" r="3.1" fill="url(#go)" stroke="none"/><circle cx="482.6" cy="505.3" r="3.1" fill="url(#go)" stroke="none"/><polygon points="587,484.9 617.9,483.4 611.2,489.4" fill="rgb(17,15,141)"/><polygon points="617.9,483.4 611.2,489.4 623.7,509.7" fill="rgb(14,12,119)"/><circle cx="617.9" cy="483.4" r="3.1" fill="url(#go)" stroke="none"/><circle cx="568.6" cy="506.7" r="3.1" fill="url(#go)" stroke="none"/><polygon points="501,483.5 525.2,487.9 506.8,509.7" fill="rgb(20,18,166)"/><polygon points="525.2,487.9 537.7,508.2 506.8,509.7" fill="rgb(17,15,144)"/><polygon points="587,484.9 611.2,489.4 592.8,511.2" fill="rgb(20,18,166)"/><polygon points="611.2,489.4 623.7,509.7 592.8,511.2" fill="rgb(17,15,144)"/><circle cx="501" cy="483.5" r="3.1" fill="url(#go)" stroke="none"/><polygon points="556.1,486.4 587,484.9 580.3,490.9" fill="rgb(17,15,141)"/><polygon points="587,484.9 580.3,490.9 592.8,511.2" fill="rgb(14,12,119)"/><circle cx="587" cy="484.9" r="3.1" fill="url(#go)" stroke="none"/><circle cx="537.7" cy="508.2" r="3.1" fill="url(#go)" stroke="none"/><circle cx="623.7" cy="509.7" r="3.1" fill="url(#go)" stroke="none"/><polygon points="556.1,486.4 580.3,490.9 561.9,512.7" fill="rgb(20,18,166)"/><polygon points="580.3,490.9 592.8,511.2 561.9,512.7" fill="rgb(17,15,144)"/><polygon points="525.2,487.9 556.1,486.4 549.4,492.4" fill="rgb(17,15,141)"/><polygon points="556.1,486.4 549.4,492.4 561.9,512.7" fill="rgb(14,12,119)"/><circle cx="556.1" cy="486.4" r="3.1" fill="url(#go)" stroke="none"/><circle cx="506.8" cy="509.7" r="3.1" fill="url(#go)" stroke="none"/><polygon points="611.2,489.4 642.1,487.9 635.4,493.8" fill="rgb(17,15,141)"/><polygon points="642.1,487.9 635.4,493.8 647.9,514.2" fill="rgb(14,12,119)"/><circle cx="642.1" cy="487.9" r="3.1" fill="url(#go)" stroke="none"/><circle cx="592.8" cy="511.2" r="3.1" fill="url(#go)" stroke="none"/><polygon points="525.2,487.9 549.4,492.4 531,514.2" fill="rgb(20,18,166)"/><polygon points="549.4,492.4 561.9,512.7 531,514.2" fill="rgb(17,15,144)"/><polygon points="611.2,489.4 635.4,493.8 617,515.7" fill="rgb(20,18,166)"/><polygon points="635.4,493.8 647.9,514.2 617,515.7" fill="rgb(17,15,144)"/><circle cx="525.2" cy="487.9" r="3.1" fill="url(#go)" stroke="none"/><polygon points="580.3,490.9 611.2,489.4 604.5,495.3" fill="rgb(17,15,141)"/><polygon points="611.2,489.4 604.5,495.3 617,515.7" fill="rgb(14,12,119)"/><circle cx="611.2" cy="489.4" r="3.1" fill="url(#go)" stroke="none"/><circle cx="561.9" cy="512.7" r="3.1" fill="url(#go)" stroke="none"/><circle cx="647.9" cy="514.2" r="3.1" fill="url(#go)" stroke="none"/><polygon points="580.3,490.9 604.5,495.3 586.1,517.2" fill="rgb(20,18,166)"/><polygon points="604.5,495.3 617,515.7 586.1,517.2" fill="rgb(17,15,144)"/><polygon points="549.4,492.4 580.3,490.9 573.6,496.8" fill="rgb(17,15,141)"/><polygon points="580.3,490.9 573.6,496.8 586.1,517.2" fill="rgb(14,12,119)"/><circle cx="580.3" cy="490.9" r="3.1" fill="url(#go)" stroke="none"/><circle cx="531" cy="514.2" r="3.1" fill="url(#go)" stroke="none"/><circle cx="617" cy="515.7" r="3.1" fill="url(#go)" stroke="none"/><polygon points="549.4,492.4 573.6,496.8 555.2,518.7" fill="rgb(20,18,166)"/><polygon points="573.6,496.8 586.1,517.2 555.2,518.7" fill="rgb(17,15,144)"/><circle cx="549.4" cy="492.4" r="3.1" fill="url(#go)" stroke="none"/><circle cx="635.4" cy="493.8" r="3.1" fill="url(#go)" stroke="none"/><circle cx="586.1" cy="517.2" r="3.1" fill="url(#go)" stroke="none"/><circle cx="604.5" cy="495.3" r="3.1" fill="url(#go)" stroke="none"/><circle cx="555.2" cy="518.7" r="3.1" fill="url(#go)" stroke="none"/><circle cx="573.6" cy="496.8" r="3.1" fill="url(#go)" stroke="none"/>
</g>
<text transform="translate(225.2 480.4) scale(1.042 1)">O</text>
<text transform="translate(237.5 515) scale(1.042 1)">Li</text>
<text transform="translate(233 544) scale(1.042 1)">Co/Ni</text>
<path d="M218.5 473.4H190.6" stroke="#f0321e" stroke-width="1.5" fill="none"/><path d="M185.5 473.4l8.5 -3.4l-2.3800000000000003 3.4l2.3800000000000003 3.4z" fill="#f0321e"/>
<path d="M223.5 509.5H162.5" stroke="#1faa14" stroke-width="1.5" fill="none"/><path d="M156.5 509.5l10 -4l-2.8000000000000003 4l2.8000000000000003 4z" fill="#1faa14"/>
<path d="M227.5 538.4H207.6" stroke="#1a3cf0" stroke-width="1.5" fill="none"/><path d="M202.5 538.4l8.5 -3.4l-2.3800000000000003 3.4l2.3800000000000003 3.4z" fill="#1a3cf0"/>
<path d="M304 509.5H402" stroke="#000" stroke-width="2.6"/><path d="M416.6 509.5l-18-9.4l5 9.4l-5 9.4z" fill="#000"/>
<g stroke="#ff2a0a" stroke-width="2.8" fill="#ff2a0a"><path d="M595.4 433.8V457"/><path d="M595.4 468.8l-9.8-17.6l9.8 4l9.8-4z" stroke="none"/><path d="M595.4 598V575"/><path d="M595.4 563l-9.8 16.8l9.8-3.6l9.8 3.6z" stroke="none"/></g>
<g stroke="#000" stroke-width="1.8" fill="none" stroke-linecap="butt"><path d="M33 456.6C29.8 443.5 37.5 435.2 51 434.4"/><path d="M56 434l-7.2-3.8l1.8 4l-1.2 3.6z" fill="#000" stroke="none"/>
<path d="M657.9 486.8C674 484.5 692 472 679.4 451.5"/><path d="M675.6 445.3l0.6 8.6l3.2-2.6l3.6-0.6z" fill="#000" stroke="none"/></g>
</svg></body></html>
